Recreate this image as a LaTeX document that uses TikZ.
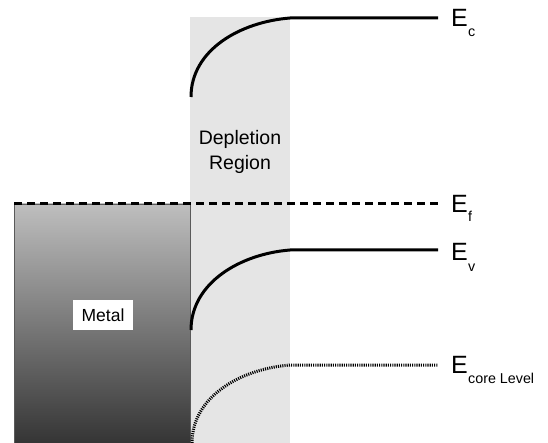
\documentclass[tikz,border=0pt]{standalone}
\usepackage{fontspec}
\setmainfont{Liberation Sans}
\definecolor{regiongray}{HTML}{E5E5E5}
\definecolor{metaltop}{HTML}{BEBEBE}
\definecolor{metalbot}{HTML}{353535}
\definecolor{metaledge}{HTML}{5A5A5A}
\begin{document}
\begin{tikzpicture}[x=1pt,y=-1pt,
  band/.style={line width=3pt},
  fermi/.style={line width=3pt,dash pattern=on 8pt off 5pt},
  corelev/.style={line width=3pt,dash pattern=on 1.1pt off 1.1pt},
  elabel/.style={anchor=base west,inner sep=0pt,font=\fontsize{25}{25}\selectfont},
  esub/.style={anchor=base west,inner sep=0pt,font=\fontsize{14.3}{14.3}\selectfont},
  plain/.style={align=center,inner sep=0pt}]
\useasboundingbox (0,0) rectangle (548,443);
% depletion region
\fill[regiongray] (190,17) rectangle (290,443);
% metal block
\shade[top color=metaltop,bottom color=metalbot] (14,204) rectangle (190,443);
\draw[metaledge,line width=0.8pt] (14,443) -- (14,204) -- (190,204) -- (190,443);
\node[fill=white,minimum width=60pt,minimum height=30pt,inner sep=0pt,
  font=\fontsize{17.5}{17.5}\selectfont] (metal) at (103,315) {Metal};
\node[plain,font=\fontsize{19.5}{25}\selectfont] (dep) at (240,152) {Depletion\\Region};
% coordinates
\coordinate (c0) at (191,97);  \coordinate (c1) at (290,18);  \coordinate (c2) at (438,18);
\coordinate (f0) at (14,204);  \coordinate (f1) at (438,204);
\coordinate (v0) at (191,330); \coordinate (v1) at (290,250); \coordinate (v2) at (438,250);
\coordinate (k0) at (192,443); \coordinate (k1) at (290,365); \coordinate (k2) at (438,365);
% bands
\draw[band] (c0) .. controls (191,50) and (240,22) .. (c1) -- (c2);
\draw[fermi] (f0) -- (f1);
\draw[band] (v0) .. controls (191,283) and (240,254) .. (v1) -- (v2);
\draw[corelev] (k0) .. controls (192,397) and (240,369) .. (k1) -- (k2);
% labels
\node[elabel] (ec) at (451,27) {E};
\node[esub] (ecs) at (468,37) {c};
\node[elabel] (ef) at (451,213) {E};
\node[esub] (efs) at (468,222) {f};
\node[elabel] (ev) at (451,261) {E};
\node[esub] (evs) at (468,272) {v};
\node[elabel] (ek) at (451,373) {E};
\node[esub] (eks) at (468,383) {core Level};
\end{tikzpicture}
\end{document}
